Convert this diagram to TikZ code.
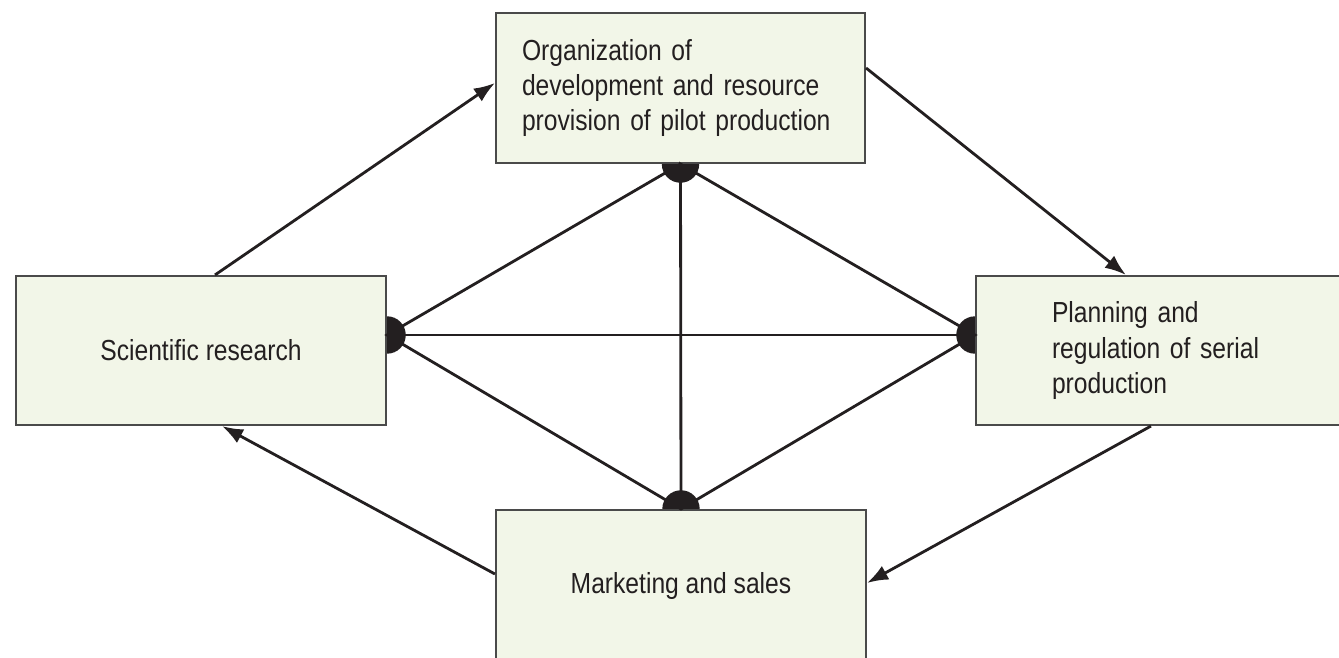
\documentclass[tikz,border=0pt]{standalone}
\usepackage{fontspec}
\setmainfont{Liberation Sans}[FakeStretch=0.85]
\usepackage{xcolor}
\usepackage{tikz}
\usetikzlibrary{arrows.meta}
\definecolor{boxfill}{HTML}{F2F6E8}
\definecolor{ink}{HTML}{231F20}
\definecolor{rim}{HTML}{4A4A4A}

\begin{document}
\begin{tikzpicture}[
		stage/.style={draw=rim,line width=0.6pt,fill=boxfill,text=ink,inner sep=0pt,align=left,font=\fontsize{8.25}{9.96}\selectfont},
		link/.style={draw=ink,line width=0.8pt},
		flow/.style={link,-{Latex[length=6pt,width=4.4pt]}}]
		\useasboundingbox (0,0) rectangle (13.39,-6.58);
		\node[stage,minimum width=3.69cm,minimum height=1.5cm,text width=3.17cm] (org) at (6.805,-0.88) {Organization of\\development and resource\\provision of pilot production};
		\node[stage,minimum width=3.7cm,minimum height=1.49cm,align=center] (sci) at (2.01,-3.505) {Scientific research};
		\node[stage,minimum width=3.75cm,minimum height=1.49cm,text width=2.23cm] (plan) at (11.635,-3.505) {Planning and\\regulation of serial\\production};
		\node[stage,minimum width=3.7cm,minimum height=1.52cm,align=center] (mkt) at (6.81,-5.86) {Marketing and sales};
		\coordinate (ht) at (org.south);
		\coordinate (hl) at ([yshift=1.55mm]sci.east);
		\coordinate (hr) at ([yshift=1.55mm]plan.west);
		\coordinate (hb) at (mkt.north);
		\draw[link] (ht) -- (hl) -- (hb) -- (hr) -- (ht) -- (hb);
		\draw[link] (hl) -- (hr);
		\fill[ink] (ht) ++(-0.187,0) arc (180:360:0.187) -- cycle;
		\fill[ink] (hl) ++(0,0.187) arc (90:-90:0.187) -- cycle;
		\fill[ink] (hr) ++(0,0.187) arc (90:270:0.187) -- cycle;
		\fill[ink] (hb) ++(-0.187,0) arc (180:0:0.187) -- cycle;
		\draw[flow] ([xshift=1.4mm]sci.north) -- ([yshift=0.5mm]org.west);
		\draw[flow] ([yshift=2mm]org.east) -- ([xshift=15.1mm]plan.north west);
		\draw[flow] ([xshift=17.6mm]plan.south west) -- ([yshift=0.3mm]mkt.east);
		\draw[flow] ([yshift=1.2mm]mkt.west) -- ([xshift=2.1mm]sci.south);
\end{tikzpicture}
\end{document}
